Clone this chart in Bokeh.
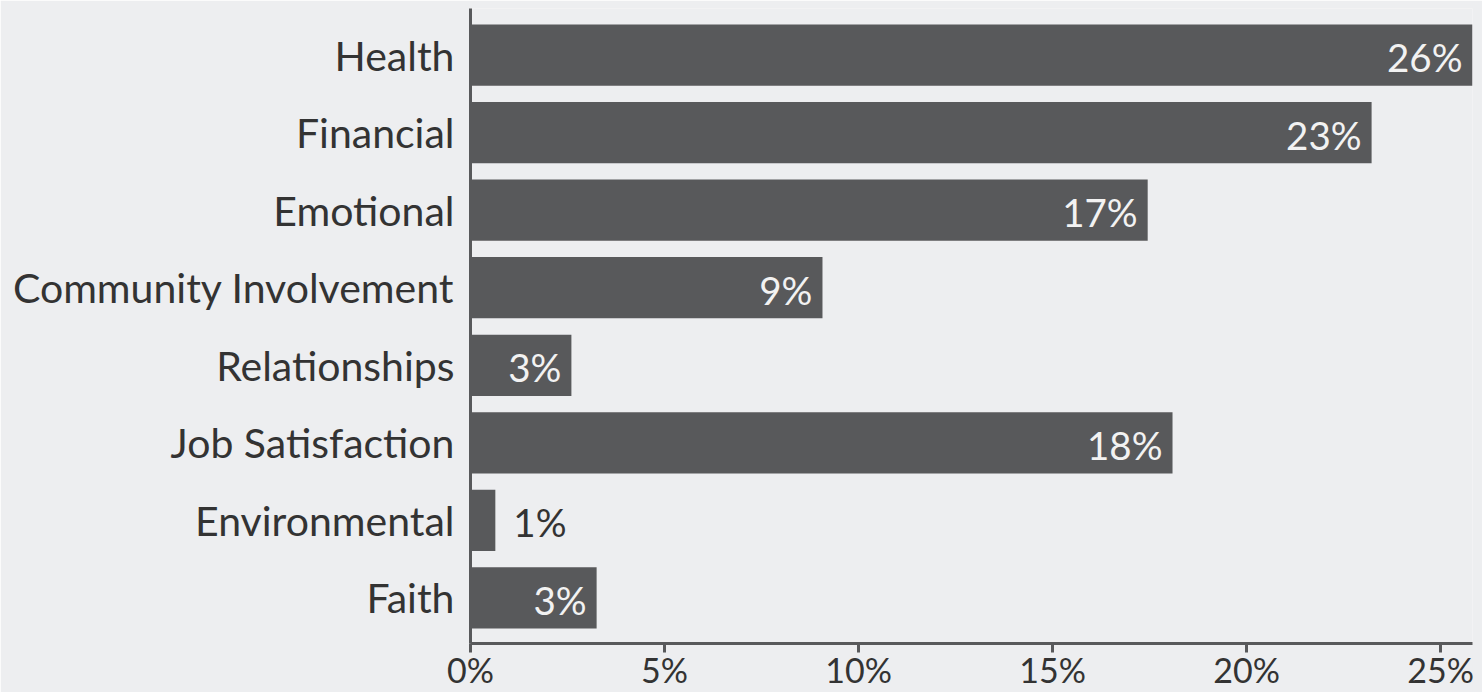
from bokeh.plotting import figure
from bokeh.models import ColumnDataSource, Range1d, FixedTicker, PrintfTickFormatter
from bokeh.core.properties import value
from bokeh.embed import file_html
from bokeh.resources import INLINE

categories = ["Health", "Financial", "Emotional", "Community Involvement",
              "Relationships", "Job Satisfaction", "Environmental", "Faith"]
values = [25.82, 23.22, 17.45, 9.07, 2.60, 18.09, 0.64, 3.25]
x_ticks = [0, 5, 10, 15, 20, 25]

BG = "#edeef0"
BAR = "#58595b"
TXT = "#333333"
FONT = "Lato"

pos = list(range(len(categories)))
labels = [f"{round(v)}%" for v in values]

src = ColumnDataSource(dict(y=pos, v=values, lab=labels))
inside = [i for i, v in enumerate(values) if v >= 2]
outside = [i for i, v in enumerate(values) if v < 2]
src_in = ColumnDataSource(dict(y=[pos[i] for i in inside], v=[values[i] for i in inside],
                               lab=[labels[i] for i in inside]))
src_out = ColumnDataSource(dict(y=[pos[i] for i in outside], v=[values[i] for i in outside],
                                lab=[labels[i] for i in outside]))

p = figure(width=1482, height=692, output_backend="svg", toolbar_location=None,
           x_range=Range1d(0, max(values)), y_range=Range1d(7.587, -0.6),
           min_border_left=470, min_border_right=10, min_border_top=8, min_border_bottom=49)
p.background_fill_color = BG
p.border_fill_color = BG
p.outline_line_color = None
p.xgrid.visible = False
p.ygrid.visible = False

p.hbar(y="y", right="v", left=0, height=0.79, source=src, fill_color=BAR, line_color=None)

p.text(x="v", y="y", text="lab", source=src_in, text_align="right", text_baseline="middle",
       x_offset=-10, y_offset=2, text_color="#f2f2f2", text_font_size="38.5px", text_font=value(FONT))
p.text(x="v", y="y", text="lab", source=src_out, text_align="left", text_baseline="middle",
       x_offset=18, y_offset=2, text_color=TXT, text_font_size="38.5px", text_font=value(FONT))

xa = p.xaxis[0]
xa.ticker = FixedTicker(ticks=x_ticks)
xa.formatter = PrintfTickFormatter(format="%d%%")
xa.axis_line_width = 3
xa.axis_line_color = BAR
xa.major_tick_line_width = 3
xa.major_tick_line_color = BAR
xa.major_tick_out = 9
xa.major_tick_in = 0
xa.minor_tick_line_color = None
xa.major_label_text_font = FONT
xa.major_label_text_font_size = "34px"
xa.major_label_text_color = TXT
xa.major_label_standoff = -4

ya = p.yaxis[0]
ya.ticker = FixedTicker(ticks=pos)
ya.major_label_overrides = {i: c for i, c in zip(pos, categories)}
ya.axis_line_width = 3
ya.axis_line_color = BAR
ya.major_tick_line_color = None
ya.major_tick_out = 0
ya.major_tick_in = 0
ya.minor_tick_line_color = None
ya.major_label_text_font = FONT
ya.major_label_text_font_size = "41px"
ya.major_label_text_color = TXT
ya.major_label_standoff = 16

open("out.html", "w").write(file_html(p, INLINE))
